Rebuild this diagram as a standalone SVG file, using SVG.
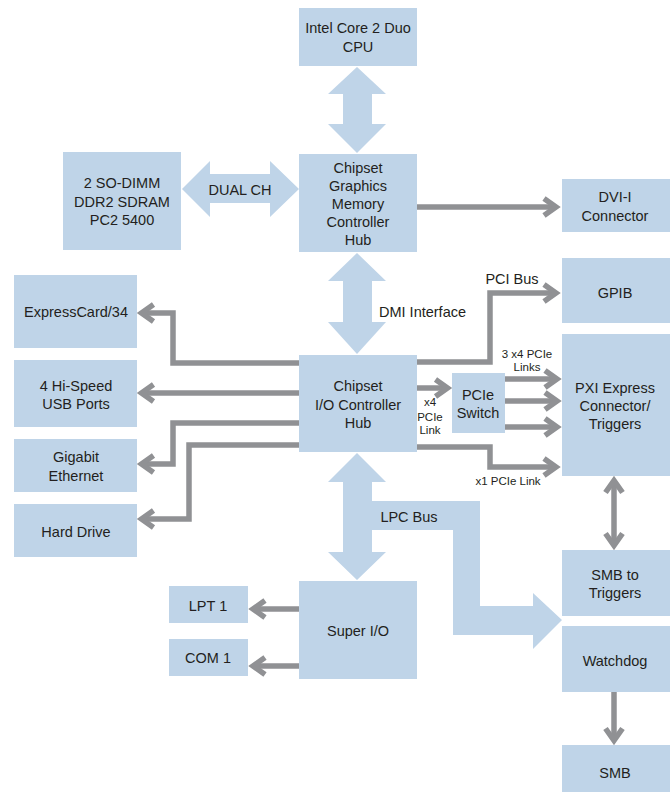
<svg xmlns="http://www.w3.org/2000/svg" width="670" height="792" viewBox="0 0 670 792">
<style>
.box{fill:#bfd4e8}
.big{fill:#bfd4e8}
.t{font-family:"Liberation Sans",Arial,sans-serif;font-size:14.5px;fill:#231f20;text-anchor:middle}
.s{font-family:"Liberation Sans",Arial,sans-serif;font-size:11.5px;fill:#231f20;text-anchor:middle}
.c{fill:none;stroke:#909194;stroke-width:5.5}
</style>
<defs>
<marker id="ah" markerUnits="userSpaceOnUse" markerWidth="24" markerHeight="24" viewBox="-16 -12 24 24" refX="0" refY="0" orient="auto-start-reverse">
<path d="M-12,-8.5 L0,0 L-12,8.5" fill="none" stroke="#909194" stroke-width="5.5"/>
</marker>
</defs>
<rect width="670" height="792" fill="#ffffff"/>
<g id="connectors">
<polygon class="big" points="357,67 386,94 372,94 372,124 386,124 357,153 328,124 343,124 343,94 328,94"/>
<polygon class="big" points="182,189 210,161 210,174 270,174 270,161 299,189 270,217 270,203 210,203 210,217"/>
<polygon class="big" points="357,253 386,281 372,281 372,322 386,322 357,354 328,322 343,322 343,281 328,281"/>
<polygon class="big" points="357,453 386,482 372,482 372,501 480,501 480,606 533,606 533,593 562,620 533,649 533,635 453,635 453,530 372,530 372,552 386,552 357,580 328,552 343,552 343,482 328,482"/>
<path class="c" d="M417,207 H556" marker-end="url(#ah)"/>
<path class="c" d="M299,363 H173 V313 H141.5" marker-end="url(#ah)"/>
<path class="c" d="M299,393 H141.5" marker-end="url(#ah)"/>
<path class="c" d="M299,423 H173 V464 H141.5" marker-end="url(#ah)"/>
<path class="c" d="M299,445 H189 V519 H141.5" marker-end="url(#ah)"/>
<path class="c" d="M417,362 H490 V293 H556" marker-end="url(#ah)"/>
<path class="c" d="M417,388 H447.5" marker-end="url(#ah)"/>
<path class="c" d="M505,379 H557" marker-end="url(#ah)"/>
<path class="c" d="M505,401 H557" marker-end="url(#ah)"/>
<path class="c" d="M505,427 H557" marker-end="url(#ah)"/>
<path class="c" d="M417,447 H490 V467 H556" marker-end="url(#ah)"/>
<path class="c" d="M299,609 H253" marker-end="url(#ah)"/>
<path class="c" d="M299,666 H253" marker-end="url(#ah)"/>
<path class="c" d="M614,480.5 V545.5" marker-start="url(#ah)" marker-end="url(#ah)"/>
<path class="c" d="M614,692 V740.5" marker-end="url(#ah)"/>
<text class="t" x="240" y="195">DUAL CH</text>
<text class="t" x="379" y="317" style="text-anchor:start">DMI Interface</text>
<text class="t" x="512" y="284">PCI Bus</text>
<text class="t" x="409" y="522">LPC Bus</text>
<text class="s" x="527" y="358">3 x4 PCIe</text>
<text class="s" x="527" y="371">Links</text>
<text class="s" x="430" y="406">x4</text>
<text class="s" x="430" y="421">PCIe</text>
<text class="s" x="430" y="434">Link</text>
<text class="s" x="508" y="485">x1 PCIe Link</text>
</g>
<g id="cpu"><rect class="box" x="299" y="8" width="118" height="58"/><text class="t" x="358" y="33">Intel Core 2 Duo</text><text class="t" x="358" y="52">CPU</text></g>
<g id="gmch"><rect class="box" x="299" y="154" width="118" height="98"/><text class="t" x="358" y="173">Chipset</text><text class="t" x="358" y="191">Graphics</text><text class="t" x="358" y="209">Memory</text><text class="t" x="358" y="227">Controller</text><text class="t" x="358" y="245">Hub</text></g>
<g id="sodimm"><rect class="box" x="63" y="152" width="118" height="98"/><text class="t" x="122" y="188">2 SO-DIMM</text><text class="t" x="122" y="207">DDR2 SDRAM</text><text class="t" x="122" y="225">PC2 5400</text></g>
<g id="dvi"><rect class="box" x="562" y="179" width="108" height="53"/><text class="t" x="615" y="202">DVI-I</text><text class="t" x="615" y="221">Connector</text></g>
<g id="gpib"><rect class="box" x="562" y="258" width="108" height="65"/><text class="t" x="615" y="298">GPIB</text></g>
<g id="pxi"><rect class="box" x="562" y="334" width="108" height="142"/><text class="t" x="615" y="393">PXI Express</text><text class="t" x="615" y="411">Connector/</text><text class="t" x="615" y="429">Triggers</text></g>
<g id="expresscard"><rect class="box" x="14" y="275" width="123" height="73"/><text class="t" x="76" y="317">ExpressCard/34</text></g>
<g id="usb"><rect class="box" x="14" y="360" width="123" height="67"/><text class="t" x="76" y="391">4 Hi-Speed</text><text class="t" x="76" y="409">USB Ports</text></g>
<g id="ethernet"><rect class="box" x="14" y="439" width="123" height="53"/><text class="t" x="76" y="462">Gigabit</text><text class="t" x="76" y="481">Ethernet</text></g>
<g id="harddrive"><rect class="box" x="14" y="504" width="123" height="53"/><text class="t" x="76" y="537">Hard Drive</text></g>
<g id="ich"><rect class="box" x="299" y="355" width="118" height="97"/><text class="t" x="358" y="391">Chipset</text><text class="t" x="358" y="410">I/O Controller</text><text class="t" x="358" y="428">Hub</text></g>
<g id="pcieswitch"><rect class="box" x="452" y="373" width="53" height="60"/><text class="t" x="478" y="400">PCIe</text><text class="t" x="478" y="418">Switch</text></g>
<g id="superio"><rect class="box" x="299" y="581" width="118" height="98"/><text class="t" x="358" y="636">Super I/O</text></g>
<g id="lpt1"><rect class="box" x="169" y="586" width="79" height="37"/><text class="t" x="208" y="611">LPT 1</text></g>
<g id="com1"><rect class="box" x="169" y="639" width="79" height="37"/><text class="t" x="208" y="663">COM 1</text></g>
<g id="smbtriggers"><rect class="box" x="562" y="550" width="108" height="66"/><text class="t" x="615" y="580">SMB to</text><text class="t" x="615" y="598">Triggers</text></g>
<g id="watchdog"><rect class="box" x="562" y="626" width="108" height="66"/><text class="t" x="615" y="666">Watchdog</text></g>
<g id="smb"><rect class="box" x="562" y="745" width="108" height="47"/><text class="t" x="615" y="778">SMB</text></g>
</svg>
